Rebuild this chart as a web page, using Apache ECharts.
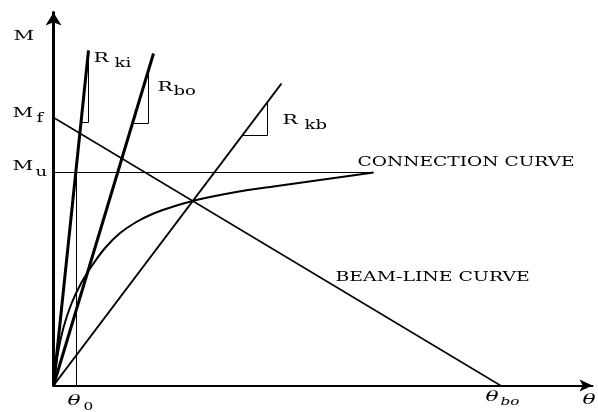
<!DOCTYPE html>
<html>
<head>
<meta charset="utf-8">
<script src="https://cdn.jsdelivr.net/npm/echarts@6/dist/echarts.min.js"></script>
<style>
  html, body { margin: 0; padding: 0; background: #fff; }
  #chart { width: 598px; height: 412px; }
</style>
</head>
<body>
<div id="chart"></div>
<script>
// Axis extents (rotation θ horizontally, moment M vertically), in drawing units
const thetaMax = 539;
const momentMax = 373;

// Straight stiffness lines from the origin
const stiffKi = [[0, 0], [35, 335]];
const stiffBo = [[0, 0], [100, 332]];
const stiffKb = [[0, 0], [228, 302]];

// Slope triangles drawn against each stiffness line
const triKi = [[27, 263], [35, 263], [35, 335]];
const triBo = [[79, 262], [95, 262], [95, 315]];
const triKb = [[189, 250], [214, 250], [214, 283]];

// Beam line from Mf down to θbo, and the Mu level
const beamLine = [[0, 268], [447, 0]];
const muLine = [[0, 213], [320, 213]];
const theta0Line = [[23, 0], [23, 220]];

// Nonlinear moment–rotation connection curve
const connectionCurve = [
  [0, 0], [4, 30], [10, 58], [18, 82], [28, 103], [40, 122], [52, 138],
  [66, 152], [82, 163], [100, 172], [120, 179], [145, 186], [180, 193],
  [220, 199], [270, 206], [320, 213]
];

// Text annotations
const labelTexts = {
  m: 'M', mf: 'M', f: 'f', mu: 'M', u: 'u',
  r1: 'R', ki: 'ki', r2: 'R', bo: 'bo', r3: 'R', kb: 'kb',
  conn: 'CONNECTION CURVE', beam: 'BEAM-LINE CURVE',
  t0: 'θ', zero: '0', tbo: 'θ', bo2: 'bo', t: 'θ'
};

const chart = echarts.init(document.getElementById('chart'), null, { renderer: 'canvas' });

function seg(name, data, width) {
  return {
    name: name, type: 'line', data: data, symbol: 'none', silent: true,
    animation: false, lineStyle: { color: '#000', width: width }
  };
}

const curveSeries = seg('connection', connectionCurve, 2);
curveSeries.smooth = 0.3;

chart.setOption({
  animation: false,
  backgroundColor: '#fff',
  grid: { left: 53.5, right: 5.5, top: 12.5, bottom: 26.5 },
  xAxis: {
    type: 'value', min: 0, max: thetaMax,
    axisLine: { show: true, onZero: false, symbol: ['none', 'arrow'], symbolSize: [9, 13],
      lineStyle: { color: '#000', width: 2 } },
    axisTick: { show: false }, axisLabel: { show: false }, splitLine: { show: false }
  },
  yAxis: {
    type: 'value', min: 0, max: momentMax,
    axisLine: { show: true, onZero: false, symbol: ['none', 'arrow'], symbolSize: [12, 13],
      lineStyle: { color: '#000', width: 3 } },
    axisTick: { show: false }, axisLabel: { show: false }, splitLine: { show: false }
  },
  series: [
    seg('theta0', theta0Line, 1),
    seg('mu', muLine, 1),
    seg('beam', beamLine, 1.5),
    seg('triKi', triKi, 1),
    seg('triBo', triBo, 1),
    seg('triKb', triKb, 1),
    seg('Rkb', stiffKb, 2),
    seg('Rbo', stiffBo, 3),
    seg('Rki', stiffKi, 3),
    curveSeries
  ]
});

// Annotation placement: [key, data x, data y, font size, italic, horizontal stretch]
const labelLayout = [
  ['m', -40, 349, 13.5, false, 1.5],
  ['mf', -41, 272.5, 13.5, false, 1.5], ['f', -17, 267, 12, false, 1.5],
  ['mu', -41, 219.5, 13.5, false, 1.5], ['u', -18, 212.5, 12, false, 1.5],
  ['r1', 40, 327, 13.5, false, 1.5], ['ki', 61, 321.5, 12, false, 1.5],
  ['r2', 104, 298, 13.5, false, 1.5], ['bo', 120, 294, 12, false, 1.5],
  ['r3', 229, 265, 13.5, false, 1.5], ['kb', 251, 260, 12, false, 1.5],
  ['conn', 304, 223, 13, false, 1.43],
  ['beam', 282, 107.5, 13, false, 1.45],
  ['t0', 14, -16, 15, true, 1.45], ['zero', 30, -22, 10.5, false, 1.45],
  ['tbo', 432, -12, 15, true, 1.45], ['bo2', 447, -16.5, 10.5, true, 1.45],
  ['t', 529, -15, 15, true, 1.45]
];

const texts = labelLayout.map(function (l) {
  const p = chart.convertToPixel({ gridIndex: 0 }, [l[1], l[2]]);
  return {
    type: 'text', x: p[0], y: p[1], scaleX: l[5], silent: true,
    style: {
      text: labelTexts[l[0]],
      font: (l[4] ? 'italic ' : '') + l[3] + 'px "DejaVu Serif"',
      fill: '#000', textAlign: 'left', textVerticalAlign: 'middle'
    }
  };
});

chart.setOption({ graphic: { elements: texts } });
</script>
</body>
</html>
